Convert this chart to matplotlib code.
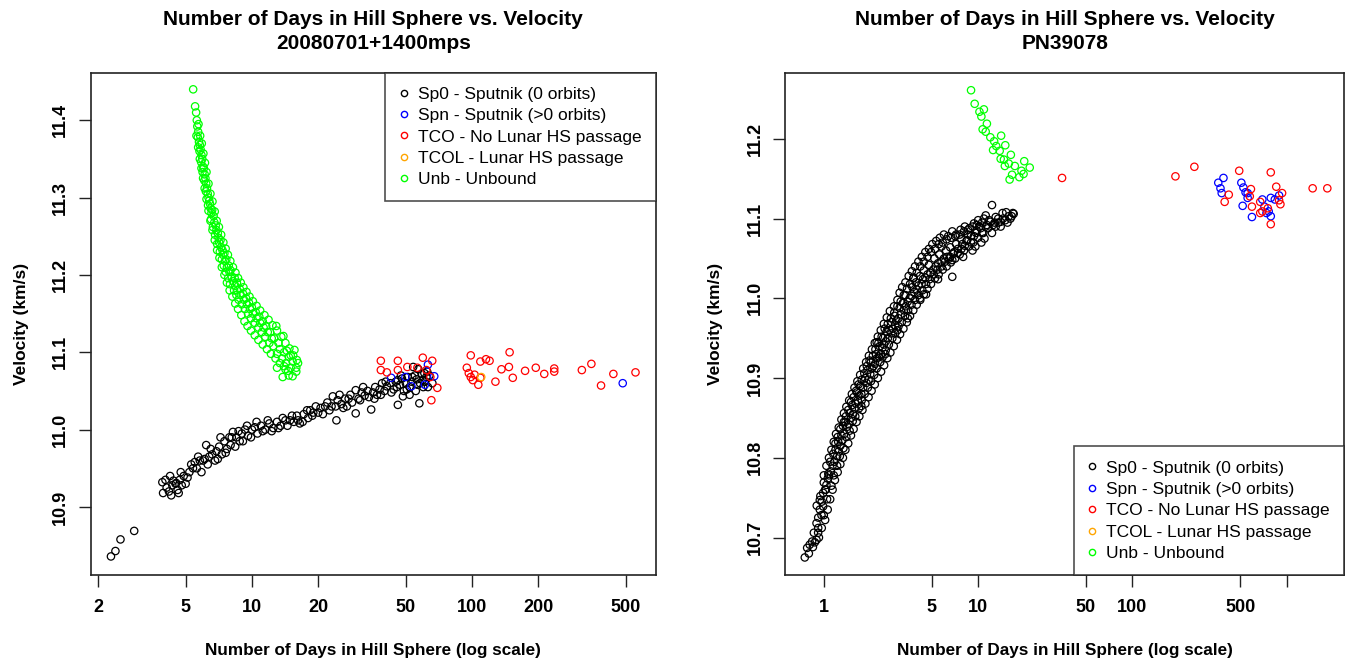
import matplotlib
matplotlib.use("Agg")
import matplotlib.pyplot as plt
from matplotlib.lines import Line2D

plt.rcParams['font.family'] = ['Liberation Sans', 'DejaVu Sans']

# ---------------- Left panel data: 20080701+1400mps ----------------
left_title = "Number of Days in Hill Sphere vs. Velocity\n20080701+1400mps"
left_xticks = [2, 5, 10, 20, 50, 100, 200, 500]
left_xticklabels = ["2", "5", "10", "20", "50", "100", "200", "500"]
left_yticks = [10.9, 11.0, 11.1, 11.2, 11.3, 11.4]

left_sp0 = [
    (2.29, 10.836), (2.40, 10.843), (2.53, 10.858), (2.92, 10.869),
    (3.92, 10.932), (3.95, 10.918), (4.10, 10.925), (4.20, 10.920), (4.30, 10.915),
    (4.35, 10.928), (4.50, 10.930), (4.53, 10.931), (4.60, 10.922), (4.70, 10.935),
    (4.40, 10.934), (4.05, 10.935), (4.65, 10.918), (4.80, 10.928), (4.90, 10.940),
    (5.00, 10.930), (5.20, 10.945), (5.40, 10.950), (5.62, 10.950), (5.50, 10.958),
    (5.80, 10.960), (6.00, 10.960), (6.20, 10.980), (6.10, 10.962), (6.40, 10.965),
    (6.50, 10.975), (6.80, 10.960), (6.90, 10.972), (7.10, 10.978), (7.30, 10.968),
    (7.50, 10.985), (7.70, 10.975), (7.90, 10.990), (8.20, 10.997), (8.00, 10.980),
    (8.50, 10.990), (8.80, 10.985), (9.00, 10.995), (9.30, 11.000), (9.60, 10.992),
    (10.0, 11.000), (10.3, 11.003), (10.6, 10.995), (11.0, 11.005), (11.5, 11.000),
    (12.0, 11.008), (12.5, 11.002), (13.0, 11.010), (13.5, 11.005), (14.2, 11.012),
    (14.9, 11.012), (15.5, 11.010), (16.0, 11.018), (16.5, 11.008), (17.2, 11.020),
    (18.0, 11.015), (18.4, 11.025), (19.0, 11.022), (19.5, 11.030), (20.5, 11.028),
    (21.0, 11.020), (22.0, 11.035), (23.3, 11.043), (23.0, 11.030), (24.2, 11.012),
    (24.5, 11.038), (25.5, 11.033), (26.5, 11.040), (27.0, 11.030), (28.0, 11.045),
    (29.6, 11.051), (29.6, 11.021), (30.5, 11.040), (31.5, 11.048), (32.5, 11.044),
    (33.5, 11.050), (34.8, 11.026), (35.5, 11.048), (36.3, 11.055), (37.0, 11.045),
    (38.0, 11.052), (39.0, 11.060), (40.0, 11.050), (41.0, 11.056), (42.5, 11.060),
    (44.0, 11.052), (45.0, 11.062), (46.0, 11.064), (46.0, 11.032), (47.0, 11.058),
    (48.0, 11.066), (49.0, 11.050), (50.0, 11.060), (51.0, 11.068), (52.0, 11.055),
    (53.0, 11.062), (54.0, 11.081), (55.0, 11.070), (56.0, 11.065), (57.6, 11.034),
    (58.0, 11.060), (59.0, 11.072), (60.7, 11.073), (61.0, 11.062), (62.0, 11.068),
    (63.0, 11.055), (64.0, 11.070), (66.0, 11.060), (52.0, 11.045), (55.5, 11.050),
    (48.5, 11.043),
    (4.25, 10.940), (4.75, 10.945), (5.10, 10.938), (5.30, 10.955), (5.70, 10.965),
    (5.90, 10.945), (6.30, 10.955), (6.60, 10.968), (7.00, 10.962), (7.20, 10.990),
    (7.60, 10.970), (8.10, 10.990), (8.40, 10.978), (8.70, 10.998), (9.10, 10.985),
    (9.50, 11.005), (9.90, 10.990), (10.5, 11.010), (11.2, 10.998), (11.8, 11.012),
    (12.3, 10.998), (13.2, 11.002), (13.8, 11.015), (14.5, 11.005), (15.2, 11.018),
    (16.2, 11.012), (17.0, 11.010), (17.8, 11.025), (18.8, 11.018), (20.0, 11.022),
    (21.5, 11.030), (22.5, 11.025), (24.0, 11.030), (25.0, 11.045), (26.0, 11.028),
    (27.5, 11.040), (28.5, 11.035), (31.0, 11.038), (32.0, 11.055), (34.0, 11.042),
    (36.0, 11.040), (38.5, 11.045), (40.5, 11.062), (43.0, 11.048), (45.5, 11.055),
    (47.5, 11.070), (50.5, 11.052), (53.5, 11.068), (56.5, 11.058), (59.5, 11.064),
    (62.5, 11.075), (57.0, 11.078), (60.0, 11.055),
]
left_spn = [
    (42.9, 11.067), (49.8, 11.068), (63.0, 11.084), (67.3, 11.069), (61.0, 11.058),
    (53.0, 11.056), (483.0, 11.060),
]
left_tco = [
    (38.5, 11.089), (46.0, 11.089), (59.7, 11.093), (65.9, 11.089), (38.5, 11.077),
    (41.0, 11.074), (46.0, 11.077), (50.8, 11.081), (56.4, 11.080), (62.0, 11.077),
    (64.6, 11.068), (69.5, 11.054), (65.3, 11.038), (98.6, 11.096), (109.0, 11.088),
    (115.6, 11.091), (120.0, 11.089), (94.6, 11.080), (96.6, 11.073), (98.6, 11.068),
    (100.7, 11.064), (102.6, 11.071), (106.7, 11.058), (109.0, 11.067), (127.6, 11.062),
    (135.9, 11.078), (146.9, 11.081), (148.0, 11.100), (153.0, 11.067), (174.0, 11.076),
    (194.6, 11.080), (212.6, 11.072), (236.0, 11.079), (236.0, 11.075), (315.0, 11.077),
    (348.0, 11.085), (385.0, 11.057), (438.0, 11.072), (552.0, 11.074),
]
left_tcol = [(110.0, 11.068)]
left_unb = [
    (5.41, 11.440), (5.52, 11.418), (5.62, 11.400), (5.65, 11.392), (5.70, 11.385),
    (5.68, 11.378), (5.75, 11.372), (5.80, 11.368), (5.78, 11.360), (5.85, 11.362),
    (5.90, 11.355), (5.88, 11.346), (5.95, 11.350), (6.00, 11.340), (5.97, 11.333),
    (6.05, 11.338), (6.10, 11.330), (6.08, 11.322), (6.15, 11.325), (6.20, 11.318),
    (6.25, 11.312), (6.18, 11.308), (6.30, 11.305), (6.35, 11.300), (6.40, 11.296),
    (6.32, 11.290), (6.45, 11.292), (6.50, 11.286), (6.55, 11.280), (6.60, 11.284),
    (6.52, 11.272), (6.70, 11.276), (6.75, 11.268), (6.65, 11.262), (6.85, 11.264),
    (6.90, 11.258), (6.80, 11.252), (7.00, 11.254), (7.05, 11.248), (7.10, 11.242),
    (6.95, 11.240), (7.20, 11.245), (7.25, 11.236), (7.15, 11.230), (7.35, 11.232),
    (7.40, 11.226), (7.30, 11.220), (7.50, 11.228), (7.55, 11.218), (7.45, 11.212),
    (7.65, 11.220), (7.70, 11.210), (7.60, 11.204), (7.85, 11.212), (7.90, 11.204),
    (7.80, 11.196), (8.00, 11.206), (8.10, 11.198), (8.20, 11.192), (7.95, 11.188),
    (8.35, 11.196), (8.40, 11.186), (8.30, 11.180), (8.55, 11.190), (8.60, 11.180),
    (8.50, 11.174), (8.80, 11.182), (8.90, 11.174), (8.70, 11.168), (9.10, 11.176),
    (9.20, 11.168), (9.00, 11.162), (9.40, 11.170), (9.50, 11.162), (9.30, 11.156),
    (9.70, 11.164), (9.80, 11.156), (9.60, 11.150), (10.0, 11.158), (10.1, 11.150),
    (9.90, 11.144), (10.4, 11.152), (10.5, 11.144), (10.3, 11.138), (10.8, 11.146),
    (10.9, 11.138), (10.7, 11.132), (11.2, 11.140), (11.3, 11.132), (11.1, 11.126),
    (11.6, 11.134), (11.8, 11.126), (11.5, 11.120), (12.1, 11.126), (12.3, 11.118),
    (12.0, 11.112), (12.6, 11.118), (12.9, 11.134), (12.5, 11.108), (13.2, 11.112),
    (13.4, 11.104), (13.0, 11.098), (13.9, 11.121), (14.0, 11.100), (13.7, 11.092),
    (14.4, 11.102), (14.7, 11.094), (14.3, 11.086), (15.0, 11.096), (15.3, 11.088),
    (15.6, 11.103), (16.2, 11.086), (15.9, 11.075), (13.8, 11.068), (14.7, 11.070),
    (15.3, 11.069), (15.9, 11.080), (14.2, 11.078), (15.0, 11.080),
    (5.58, 11.410), (5.72, 11.395), (5.82, 11.380), (5.92, 11.370), (6.02, 11.357),
    (6.12, 11.345), (6.22, 11.333), (6.35, 11.318), (6.48, 11.305), (6.62, 11.295),
    (6.78, 11.282), (6.92, 11.270), (7.08, 11.262), (7.25, 11.252), (7.42, 11.242),
    (7.60, 11.234), (7.78, 11.226), (7.98, 11.218), (8.20, 11.210), (8.42, 11.203),
    (8.65, 11.196), (8.90, 11.190), (9.15, 11.184), (9.45, 11.178), (9.75, 11.172),
    (10.1, 11.166), (10.5, 11.160), (10.9, 11.154), (11.4, 11.148), (11.9, 11.142),
    (12.4, 11.135), (13.0, 11.128), (13.6, 11.120), (14.2, 11.112), (14.8, 11.105),
    (15.4, 11.096), (16.0, 11.090),
    (5.60, 11.380), (5.70, 11.365), (5.80, 11.350), (5.90, 11.338), (6.00, 11.325),
    (6.10, 11.312), (6.22, 11.298), (6.35, 11.283), (6.48, 11.270), (6.62, 11.258),
    (6.78, 11.245), (6.95, 11.232), (7.12, 11.222), (7.30, 11.210), (7.50, 11.200),
    (7.70, 11.190), (7.92, 11.180), (8.15, 11.172), (8.40, 11.163), (8.65, 11.156),
    (8.95, 11.148), (9.25, 11.140), (9.55, 11.134), (9.90, 11.128), (10.3, 11.122),
    (10.7, 11.116), (11.2, 11.110), (11.7, 11.104), (12.2, 11.098), (12.8, 11.092),
    (13.4, 11.086), (13.0, 11.080), (14.0, 11.082), (14.6, 11.076),
]

# ---------------- Right panel data: PN39078 ----------------
right_title = "Number of Days in Hill Sphere vs. Velocity\nPN39078"
right_xticks = [1, 5, 10, 50, 100, 500, 1000]
right_xticklabels = ["1", "5", "10", "50", "100", "500", ""]
right_yticks = [10.7, 10.8, 10.9, 11.0, 11.1, 11.2]

right_sp0 = [
    (0.753, 10.675), (0.78, 10.687), (0.81, 10.691), (0.875, 10.694), (0.897, 10.697),
    (0.862, 10.706), (0.919, 10.706), (0.897, 10.718), (0.966, 10.728), (0.942, 10.735),
    (0.99, 10.739), (0.942, 10.747), (0.99, 10.756), (1.04, 10.766), (1.00, 10.769),
    (1.02, 10.760), (1.06, 10.774), (1.11, 10.783), (1.08, 10.778), (1.14, 10.790),
    (1.17, 10.795), (1.22, 10.802), (1.19, 10.810), (1.25, 10.808), (1.28, 10.815),
    (1.24, 10.820), (1.32, 10.822), (1.30, 10.828), (1.36, 10.830), (1.42, 10.839),
    (1.38, 10.845), (1.45, 10.842), (1.50, 10.850), (1.47, 10.856), (1.55, 10.855),
    (1.61, 10.868), (1.58, 10.862), (1.52, 10.866), (1.66, 10.872), (1.70, 10.878),
    (1.64, 10.882), (1.75, 10.880), (1.80, 10.888), (1.72, 10.890), (1.89, 10.894),
    (1.85, 10.900), (1.95, 10.898), (2.00, 10.905), (1.92, 10.910), (2.05, 10.912),
    (2.10, 10.915), (2.02, 10.920), (2.15, 10.918), (2.22, 10.925), (2.28, 10.927),
    (2.18, 10.930), (2.35, 10.930), (2.40, 10.938), (2.30, 10.940), (2.45, 10.942),
    (2.52, 10.946), (2.42, 10.950), (2.60, 10.950), (2.74, 10.956), (2.66, 10.960),
    (2.55, 10.958), (2.80, 10.962), (2.90, 10.966), (2.75, 10.970), (2.95, 10.972),
    (3.05, 10.975), (2.88, 10.978), (3.15, 10.980), (3.31, 10.985), (3.10, 10.988),
    (3.40, 10.990), (3.25, 10.994), (3.50, 10.996), (3.60, 11.000), (3.38, 11.004),
    (3.70, 11.003), (3.85, 11.008), (4.00, 11.011), (3.75, 11.014), (4.10, 11.016),
    (4.30, 11.018), (3.95, 11.020), (4.40, 11.024), (4.55, 11.026), (4.20, 11.028),
    (4.70, 11.030), (4.90, 11.032), (4.45, 11.035), (5.12, 11.036), (5.30, 11.040),
    (4.80, 11.042), (5.50, 11.044), (5.80, 11.046), (5.20, 11.050), (6.00, 11.050),
    (6.30, 11.052), (5.60, 11.055), (6.60, 11.052), (6.80, 11.048), (6.20, 11.060),
    (7.00, 11.058), (7.40, 11.057), (6.60, 11.064), (7.80, 11.062), (8.20, 11.066),
    (7.20, 11.068), (8.50, 11.073), (9.00, 11.070), (7.80, 11.074), (9.60, 11.065),
    (9.40, 11.078), (8.60, 11.080), (10.2, 11.090), (10.6, 11.082), (9.80, 11.085),
    (10.9, 11.100), (11.4, 11.092), (12.3, 11.082), (11.8, 11.098), (12.3, 11.117),
    (12.8, 11.095), (13.5, 11.100), (14.4, 11.107), (15.0, 11.098), (15.8, 11.103),
    (16.8, 11.107), (16.2, 11.100), (5.80, 11.065), (6.80, 11.027), (3.80, 11.025),
    (2.20, 10.945), (1.35, 10.845), (3.50, 10.975), (4.60, 11.005), (5.50, 11.024),
    (13.0, 11.090), (11.0, 11.075), (2.50, 10.930), (1.75, 10.865), (3.00, 10.960),
    (4.20, 11.000), (8.00, 11.052), (9.20, 11.060), (10.5, 11.070),
    (0.80, 10.680), (0.85, 10.688), (0.93, 10.700), (0.97, 10.712), (1.02, 10.722),
    (1.06, 10.735), (1.10, 10.748), (1.14, 10.760), (1.18, 10.772), (1.23, 10.782),
    (1.28, 10.792), (1.33, 10.800), (1.38, 10.810), (1.44, 10.818), (1.50, 10.828),
    (1.56, 10.836), (1.63, 10.845), (1.70, 10.852), (1.78, 10.860), (1.86, 10.868),
    (1.95, 10.876), (2.04, 10.884), (2.14, 10.892), (2.24, 10.900), (2.35, 10.908),
    (2.46, 10.916), (2.58, 10.925), (2.70, 10.932), (2.84, 10.940), (2.98, 10.948),
    (3.12, 10.955), (3.28, 10.962), (3.45, 10.970), (3.62, 10.978), (3.80, 10.985),
    (4.00, 10.992), (4.22, 10.998), (4.45, 11.005), (4.70, 11.012), (4.95, 11.018),
    (5.25, 11.025), (5.55, 11.030), (5.90, 11.036), (6.25, 11.040), (6.65, 11.045),
    (7.10, 11.050), (7.60, 11.055), (8.10, 11.060), (8.70, 11.065), (9.30, 11.070),
    (10.0, 11.076), (10.8, 11.082), (11.6, 11.088), (12.5, 11.092), (13.5, 11.095),
    (14.5, 11.100), (15.5, 11.095), (16.5, 11.103), (17.0, 11.106), (14.0, 11.090),
    (0.90, 10.740), (0.95, 10.752), (1.00, 10.778), (1.04, 10.790), (1.08, 10.800),
    (1.12, 10.810), (1.16, 10.820), (1.20, 10.830), (1.25, 10.838), (1.30, 10.848),
    (1.35, 10.856), (1.40, 10.864), (1.46, 10.872), (1.52, 10.880), (1.58, 10.888),
    (1.65, 10.896), (1.72, 10.904), (1.80, 10.912), (1.88, 10.920), (1.96, 10.928),
    (2.05, 10.936), (2.14, 10.944), (2.24, 10.952), (2.34, 10.960), (2.45, 10.968),
    (2.56, 10.976), (2.68, 10.984), (2.85, 10.990), (3.00, 10.998), (3.10, 11.007),
    (3.22, 11.014), (3.38, 11.020), (3.55, 11.028), (3.72, 11.034), (3.90, 11.040),
    (4.10, 11.046), (4.32, 11.052), (4.55, 11.058), (4.80, 11.062), (5.05, 11.068),
    (5.35, 11.072), (5.65, 11.076), (6.00, 11.080), (6.40, 11.078), (6.80, 11.084),
    (7.20, 11.080), (7.70, 11.086), (8.20, 11.090), (8.80, 11.088), (9.40, 11.094),
    (10.0, 11.098), (10.6, 11.095), (11.2, 11.104),
    (0.84, 10.695), (0.92, 10.712), (1.00, 10.728), (1.05, 10.748), (1.12, 10.765),
    (1.16, 10.778), (1.22, 10.790), (1.27, 10.802), (1.34, 10.812), (1.40, 10.826),
    (1.47, 10.834), (1.54, 10.846), (1.60, 10.852), (1.69, 10.862), (1.76, 10.872),
    (1.84, 10.880), (1.93, 10.888), (2.02, 10.896), (2.12, 10.904), (2.20, 10.912),
    (2.32, 10.920), (2.40, 10.926), (2.52, 10.935), (2.64, 10.942), (2.78, 10.950),
    (2.90, 10.956), (3.05, 10.965), (3.20, 10.970), (3.36, 10.978), (3.52, 10.985),
    (3.70, 10.992), (3.90, 10.998), (4.10, 11.004), (4.35, 11.010), (4.60, 11.018),
    (4.85, 11.024), (5.15, 11.030), (5.45, 11.036), (5.80, 11.040), (6.10, 11.046),
    (6.50, 11.050), (6.90, 11.056), (7.40, 11.062), (7.90, 11.068), (8.40, 11.072),
    (9.00, 11.078), (9.70, 11.082), (10.4, 11.088), (11.2, 11.090), (12.0, 11.096),
    (13.0, 11.102), (14.0, 11.096), (15.2, 11.108),
    (0.92, 10.725), (0.97, 10.745), (1.03, 10.760), (1.07, 10.780), (1.10, 10.795),
    (1.15, 10.805), (1.19, 10.818), (1.23, 10.826), (1.28, 10.836), (1.33, 10.840),
    (1.39, 10.852), (1.44, 10.860), (1.50, 10.870), (1.56, 10.876), (1.62, 10.884),
    (1.68, 10.892), (1.76, 10.898), (1.83, 10.906), (1.90, 10.915), (1.98, 10.922),
    (2.08, 10.928), (2.16, 10.936), (2.26, 10.944), (2.37, 10.952), (2.48, 10.962),
    (2.60, 10.968), (2.72, 10.975), (2.86, 10.982), (3.00, 10.990), (3.15, 10.996),
    (3.30, 11.004), (3.46, 11.012), (3.62, 11.018), (3.82, 11.026), (4.00, 11.032),
    (4.22, 11.040), (4.45, 11.046), (4.70, 11.052), (4.95, 11.058), (5.25, 11.062),
    (5.55, 11.068), (5.90, 11.070), (6.25, 11.074), (6.70, 11.076), (7.10, 11.078),
    (7.60, 11.080), (8.10, 11.084), (8.60, 11.086), (9.20, 11.090), (9.80, 11.092),
]
right_spn = [
    (360, 11.145), (389, 11.151), (372, 11.138), (379, 11.132), (508, 11.145),
    (524, 11.139), (541, 11.133), (558, 11.126), (518, 11.116), (595, 11.102),
    (695, 11.124), (717, 11.115), (739, 11.107), (788, 11.103), (788, 11.126),
    (892, 11.129), (837, 11.124), (764, 11.109), (558, 11.132),
]
right_tco = [
    (35, 11.151), (190, 11.153), (252, 11.165), (492, 11.160), (788, 11.158),
    (421, 11.130), (396, 11.121), (586, 11.137), (576, 11.128), (595, 11.115),
    (673, 11.121), (695, 11.109), (754, 11.113), (788, 11.093), (855, 11.140),
    (933, 11.132), (892, 11.123), (910, 11.118), (1472, 11.138), (1832, 11.138),
    (673, 11.107),
]
right_tcol = []
right_unb = [
    (9.0, 11.261), (9.5, 11.244), (10.2, 11.234), (10.9, 11.237), (10.5, 11.228),
    (11.4, 11.219), (10.7, 11.212), (11.2, 11.209), (12.0, 11.202), (14.1, 11.204),
    (12.7, 11.197), (15.0, 11.192), (12.5, 11.186), (13.8, 11.185), (16.3, 11.180),
    (14.7, 11.174), (15.8, 11.169), (17.3, 11.166), (19.9, 11.172), (21.6, 11.164),
    (19.1, 11.160), (16.6, 11.155), (18.5, 11.152), (16.0, 11.149), (19.7, 11.156),
    (14.9, 11.166), (14.0, 11.175), (13.1, 11.191),
]

series_names = ["Sp0 - Sputnik (0 orbits)", "Spn - Sputnik (>0 orbits)",
                "TCO - No Lunar HS passage", "TCOL - Lunar HS passage", "Unb - Unbound"]
series_colors = ["#000000", "#0000FF", "#FF0000", "#FFA500", "#00FF00"]

W, H = 1353, 663
fig = plt.figure(figsize=(W / 100, H / 100), dpi=100)


def make_panel(rect_px, title, series, xlim, ylim, xticks, xticklabels, yticks, legend_loc):
    x0, y0, x1, y1 = rect_px
    ax = fig.add_axes([x0 / W, 1 - y1 / H, (x1 - x0) / W, (y1 - y0) / H])
    ax.set_xscale("log")
    for pts, col in zip(series, series_colors):
        if not pts:
            continue
        xs = [p[0] for p in pts]
        ys = [p[1] for p in pts]
        ax.scatter(xs, ys, s=28, facecolors="none", edgecolors=col, linewidths=0.9, zorder=3)
    ax.set_xlim(*xlim)
    ax.set_ylim(*ylim)
    ax.set_xticks(xticks)
    ax.set_xticklabels(xticklabels)
    ax.minorticks_off()
    ax.set_yticks(yticks)
    ax.set_yticklabels([f"{v:.1f}" for v in yticks])
    for sp in ax.spines.values():
        sp.set_linewidth(1.2)
        sp.set_color("#222222")
    ax.tick_params(axis="both", direction="out", length=8.5, width=1.0, color="#222222")
    ax.tick_params(axis="x", pad=9, labelsize=13)
    ax.tick_params(axis="y", pad=7, labelsize=13, labelrotation=90)
    for lab in ax.get_xticklabels() + ax.get_yticklabels():
        lab.set_fontweight("bold")
    for lab in ax.get_yticklabels():
        lab.set_va("center")
    ax.set_title(title, fontsize=15, fontweight="bold", pad=17, linespacing=1.35)
    ax.set_xlabel("Number of Days in Hill Sphere (log scale)", fontsize=12.3,
                  fontweight="bold", labelpad=19)
    ax.set_ylabel("Velocity (km/s)", fontsize=12.5, fontweight="bold", labelpad=17)

    handles = [Line2D([0], [0], marker="o", linestyle="none", markersize=4.5,
                      markerfacecolor="none", markeredgecolor=c, markeredgewidth=1.0)
               for c in series_colors]
    leg = ax.legend(handles, series_names, loc=legend_loc, fontsize=12.5,
                    frameon=True, fancybox=False, borderaxespad=0,
                    handlelength=0.5, handletextpad=0.6, labelspacing=0.36,
                    borderpad=0.8)
    leg.get_frame().set_edgecolor("#222222")
    leg.get_frame().set_linewidth(1.2)
    return ax


make_panel((90.7, 72.7, 656, 575), left_title,
           [left_sp0, left_spn, left_tco, left_tcol, left_unb],
           (1.853, 684), (10.812, 11.4615),
           left_xticks, left_xticklabels, left_yticks, "upper right")

make_panel((785.3, 72.7, 1344, 575), right_title,
           [right_sp0, right_spn, right_tco, right_tcol, right_unb],
           (0.563, 2350), (10.653, 11.283),
           right_xticks, right_xticklabels, right_yticks, "lower right")

fig.savefig("out.png", dpi=100, facecolor="white")
